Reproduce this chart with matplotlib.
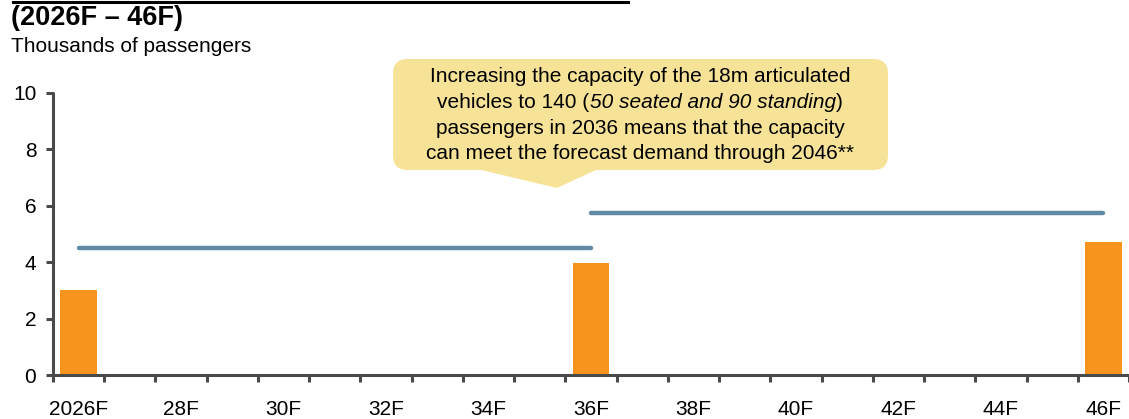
import numpy as np
import matplotlib
matplotlib.use("Agg")
import matplotlib.pyplot as plt
from matplotlib.patches import FancyBboxPatch, Polygon
from matplotlib.lines import Line2D

plt.rcParams['font.family'] = ['Liberation Sans', 'DejaVu Sans']

# data ------------------------------------------------
years = ["2026F", "27F", "28F", "29F", "30F", "31F", "32F", "33F", "34F", "35F", "36F",
         "37F", "38F", "39F", "40F", "41F", "42F", "43F", "44F", "45F", "46F"]
demand_years = ["2026F", "36F", "46F"]
demand = [3.0, 3.95, 4.7]
cap1_years = years[0:11]
cap1 = [4.5, 4.5, 4.5, 4.5, 4.5, 4.5, 4.5, 4.5, 4.5, 4.5, 4.5]
cap2_years = years[10:21]
cap2 = [5.75, 5.75, 5.75, 5.75, 5.75, 5.75, 5.75, 5.75, 5.75, 5.75, 5.75]
label_years = ["2026F", "28F", "30F", "32F", "34F", "36F", "38F", "40F", "42F", "44F", "46F"]

pos = {y: i for i, y in enumerate(years)}

W, H = 1129, 419
fig = plt.figure(figsize=(W / 100, H / 100), dpi=100)
ax = fig.add_axes([53 / W, 1 - 375 / H, (W - 53) / W, (375 - 92.5) / H])

grey = '#4a4a4a'
orange = '#F7941E'
blue = '#6089A3'

ax.bar([pos[y] for y in demand_years], demand, width=0.72, color=orange, zorder=2)
ax.plot([pos[y] for y in cap1_years], cap1, color=blue, lw=3.2, solid_capstyle='round', zorder=3)
ax.plot([pos[y] for y in cap2_years], cap2, color=blue, lw=3.2, solid_capstyle='round', zorder=3)

ax.set_ylim(0, 10)
ax.set_yticks([0, 2, 4, 6, 8, 10])
ax.set_xlim(-0.5, (W - 53) / 51.6 - 0.5)
ax.set_xticks(np.arange(-0.5, 21, 1))
ax.set_xticklabels([])
ax.set_xticks([pos[y] for y in label_years], minor=True)
ax.set_xticklabels(label_years, minor=True)

for s in ['top', 'right']:
    ax.spines[s].set_visible(False)
for s in ['left', 'bottom']:
    ax.spines[s].set_color(grey)
    ax.spines[s].set_linewidth(2.2)
    ax.spines[s].set_capstyle('round')
ax.tick_params(axis='y', which='major', length=5, width=2.2, color=grey, labelsize=15, pad=7)
ax.tick_params(axis='x', which='major', length=5, width=2.2, color=grey)
ax.tick_params(axis='x', which='minor', length=0, labelsize=15, pad=18)

# titles ----------------------------------------------
fig.add_artist(Line2D([13 / W, 628 / W], [1 - 2 / H, 1 - 2 / H], color='black', lw=2.2))
fig.text(11 / W, 1 - 18 / H, "(2026F \u2013 46F)", fontsize=19.5, fontweight='bold', va='center', ha='left')
fig.text(11 / W, 1 - 46 / H, "Thousands of passengers", fontsize=15, va='center', ha='left')

# callout ---------------------------------------------
box_col = '#F7E397'
x0, x1, y0, y1 = 393, 888, 59, 170
box = FancyBboxPatch((x0 / W, 1 - y1 / H), (x1 - x0) / W, (y1 - y0) / H,
                     boxstyle="round,pad=0,rounding_size=0.013",
                     transform=fig.transFigure, facecolor=box_col, edgecolor='none',
                     mutation_aspect=W / H)
fig.add_artist(box)
tri = Polygon([[477 / W, 1 - 169 / H], [598 / W, 1 - 169 / H], [557 / W, 1 - 188 / H]],
              closed=True, transform=fig.transFigure, facecolor=box_col, edgecolor='none')
fig.add_artist(tri)

cx = 640
line_y = [77, 102.5, 128, 153.5]
fig.text(cx / W, 1 - line_y[0] / H, "Increasing the capacity of the 18m articulated",
         fontsize=15, ha='center', va='center')
fig.text(cx / W, 1 - line_y[2] / H, "passengers in 2036 means that the capacity",
         fontsize=15, ha='center', va='center')
fig.text(cx / W, 1 - line_y[3] / H, "can meet the forecast demand through 2046**",
         fontsize=15, ha='center', va='center')

# second line has an italic part: place pieces one after another
pieces = [("vehicles to 140 (", 'normal'), ("50 seated and 90 standing", 'italic'), (")", 'normal')]
r = fig.canvas.get_renderer()
objs = []
for s, st in pieces:
    t = fig.text(0, 1 - line_y[1] / H, s, fontsize=15, style=st, ha='left', va='baseline')
    objs.append(t)
widths = [t.get_window_extent(r).width for t in objs]
xs = cx - sum(widths) / 2
ref = fig.text(cx / W, 1 - line_y[1] / H, "vehicles", fontsize=15, ha='center', va='center')
ref_bb = ref.get_window_extent(r)
ref.remove()
for t, w in zip(objs, widths):
    t.set_position((xs / W, 1 - line_y[1] / H))
    xs += w
# align baselines with the centered lines
base_t = fig.text(0, 1 - line_y[1] / H, "vehicles", fontsize=15, va='baseline')
dy = base_t.get_window_extent(r).y0 - ref_bb.y0
base_t.remove()
for t in objs:
    px, py = t.get_position()
    t.set_position((px, py - dy / H))

fig.savefig("out.png", dpi=100)
